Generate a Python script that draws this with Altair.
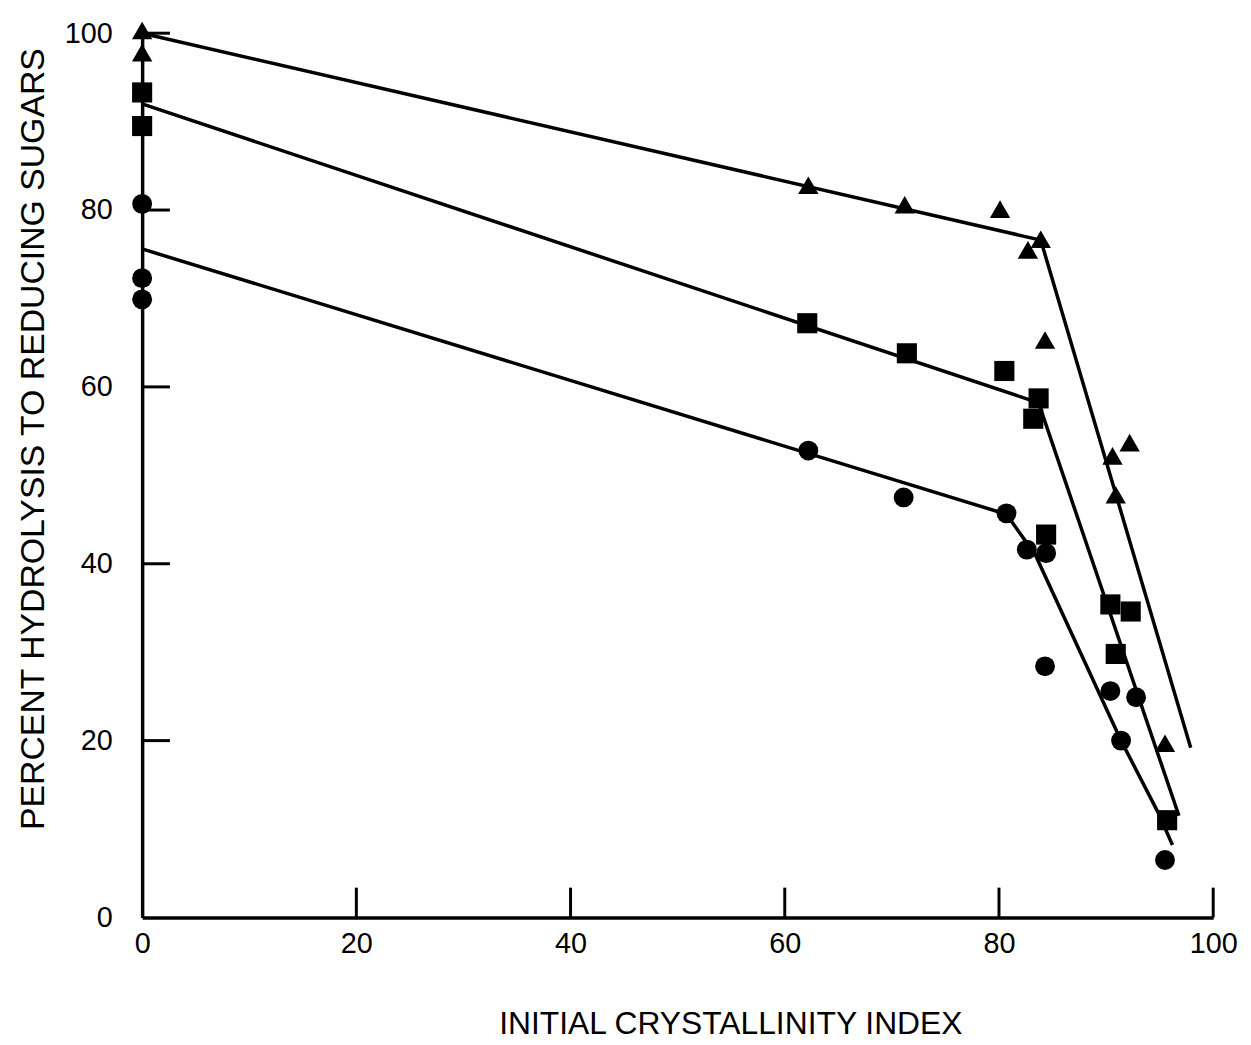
import altair as alt
import pandas as pd

# --- data ---
tri_x = [0, 0, 62.2, 71.2, 80.1, 82.7, 83.9, 84.3, 90.6, 92.2, 90.9, 95.5]
tri_y = [100.3, 97.8, 82.8, 80.6, 80.1, 75.5, 76.7, 65.3, 52.2, 53.7, 47.8, 19.7]

sq_x = [0, 0, 62.1, 71.4, 80.5, 83.7, 83.2, 84.4, 90.4, 92.3, 90.9, 95.7]
sq_y = [93.3, 89.5, 67.2, 63.8, 61.8, 58.7, 56.4, 43.3, 35.4, 34.6, 29.8, 11.0]

ci_x = [0, 0, 0, 62.2, 71.1, 80.7, 82.6, 84.4, 84.3, 90.4, 92.8, 91.4, 95.5]
ci_y = [80.7, 72.3, 69.9, 52.8, 47.5, 45.7, 41.6, 41.2, 28.4, 25.6, 24.9, 20.0, 6.5]

# fitted curves (vertices)
tri_line_x = [0, 83.9, 97.9]
tri_line_y = [100, 76.6, 19.2]
sq_line_x = [0, 83.7, 96.8]
sq_line_y = [92, 58.2, 11.5]
ci_line_x = [0, 80.7, 83.4, 91.4, 94.8, 96.2]
ci_line_y = [75.6, 45.6, 41.0, 20.0, 12.0, 8.2]

tick_values = [0, 20, 40, 60, 80, 100]
inner_ticks = [20, 40, 60, 80, 100]

FONT = "Liberation Sans"

pts = pd.DataFrame(
    [{"x": a, "y": b, "s": "tri"} for a, b in zip(tri_x, tri_y)]
    + [{"x": a, "y": b, "s": "sq"} for a, b in zip(sq_x, sq_y)]
    + [{"x": a, "y": b, "s": "ci"} for a, b in zip(ci_x, ci_y)]
)

lines = pd.DataFrame(
    [{"x": a, "y": b, "s": "tri", "i": i} for i, (a, b) in enumerate(zip(tri_line_x, tri_line_y))]
    + [{"x": a, "y": b, "s": "sq", "i": i} for i, (a, b) in enumerate(zip(sq_line_x, sq_line_y))]
    + [{"x": a, "y": b, "s": "ci", "i": i} for i, (a, b) in enumerate(zip(ci_line_x, ci_line_y))]
)

xticks = pd.DataFrame({"x": inner_ticks})
yticks = pd.DataFrame({"y": inner_ticks})

xs = alt.Scale(domain=[0, 100], nice=False, zero=False)
ys = alt.Scale(domain=[0, 100], nice=False, zero=False)

x_axis = alt.Axis(
    values=tick_values, ticks=False, grid=False, domainColor="black", domainWidth=3.5,
    labelFont=FONT, labelFontSize=29, labelColor="black", labelPadding=12, labelFlush=False,
    title="INITIAL CRYSTALLINITY INDEX", titleFont=FONT, titleFontSize=32,
    titleFontWeight="normal", titleColor="black", titleX=592, titleY=117,
    titleBaseline="alphabetic", titleAlign="center",
)
y_axis = alt.Axis(
    values=tick_values, ticks=False, grid=False, domainColor="black", domainWidth=3.5,
    labelFont=FONT, labelFontSize=29, labelColor="black", labelPadding=30, labelFlush=False,
    title="PERCENT HYDROLYSIS TO REDUCING SUGARS", titleFont=FONT, titleFontSize=34,
    titleFontWeight="normal", titleColor="black", titleX=-109, titleY=408,
    titleBaseline="middle", titleAlign="center", titleAngle=270,
)

X = alt.X("x:Q", scale=xs, axis=x_axis)
Y = alt.Y("y:Q", scale=ys, axis=y_axis)

line_layer = alt.Chart(lines).mark_line(color="black", strokeWidth=3.5).encode(
    x=X, y=Y, detail="s:N", order="i:Q",
)

point_layer = alt.Chart(pts).mark_point(filled=True, opacity=1, color="black").encode(
    x=X, y=Y,
    shape=alt.Shape("s:N", scale=alt.Scale(domain=["tri", "sq", "ci"],
                                             range=["triangle-up", "square", "circle"]),
                    legend=None),
    size=alt.Size("s:N", scale=alt.Scale(domain=["tri", "sq", "ci"], range=[420, 400, 330]),
                  legend=None),
)

xtick_layer = alt.Chart(xticks).mark_rule(color="black", strokeWidth=3).encode(
    x=X, y=alt.value(890), y2=alt.value(860),
)

ytick_layer = alt.Chart(yticks).mark_rule(color="black", strokeWidth=3).encode(
    y=Y, x=alt.value(0), x2=alt.value(28),
)

chart = alt.layer(line_layer, point_layer, xtick_layer, ytick_layer).properties(
    width=1078, height=890,
    autosize=alt.AutoSizeParams(type="none"),
    padding={"left": 135, "top": 22, "right": 30, "bottom": 125},
    background="white",
).configure_view(stroke=None)

chart.save("out.html", embed_options={"renderer": "svg", "actions": False})
